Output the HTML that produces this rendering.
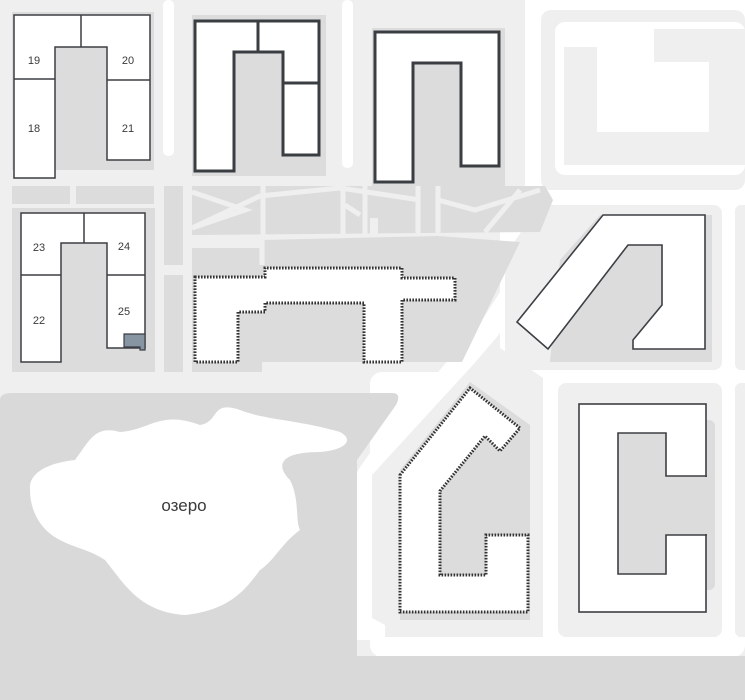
<!DOCTYPE html>
<html><head><meta charset="utf-8"><style>
html,body{margin:0;padding:0;background:#fff}
svg{display:block}
text{font-family:"Liberation Sans",sans-serif;fill:#3a3a3a}
</style></head><body>
<svg width="745" height="700" viewBox="0 0 745 700" xmlns="http://www.w3.org/2000/svg">
<rect x="0" y="0" width="745" height="700" fill="#efefef"/>
<rect x="163" y="0" width="11" height="156" rx="5" fill="#fff"/>
<rect x="342" y="0" width="11" height="168" rx="5" fill="#fff"/>
<rect x="525" y="0" width="220" height="205" fill="#fff"/>
<rect x="541" y="10" width="204" height="180" rx="10" fill="#efefef"/>
<rect x="555" y="22" width="190" height="153" rx="10" fill="#fff"/>
<polygon points="564,47 597,47 597,132 709,132 709,62 654,62 654,29 745,29 745,165 564,165" fill="#efefef"/>
<rect x="500" y="190" width="245" height="200" fill="#fff"/>
<rect x="370" y="372" width="375" height="285" rx="12" fill="#fff"/>
<polyline points="572,200 490,328 382,455 368,475 368,640" fill="none" stroke="#fff" stroke-width="22" stroke-linejoin="round"/>
<rect x="505" y="205" width="217" height="165" rx="8" fill="#efefef"/>
<polygon points="505,205 540,205 505,255" fill="#fff"/>
<rect x="735" y="205" width="20" height="165" rx="6" fill="#efefef"/>
<polygon points="560,260 600,215 712,215 712,362 550,362" fill="#dcdcdc"/>
<polygon points="517,322 603,215 705,215 705,349 633,349 633,340 662,305 662,245 628,245 548,349" fill="#fff" stroke="#3c3f44" stroke-width="1.6"/>
<polygon points="493,343 543,378 543,637 385,637 385,625 372,618 372,475" fill="#efefef"/>
<polygon points="400,470 470,382 530,425 530,620 400,620" fill="#dcdcdc"/>
<polygon points="400,475 470,388 520,428 500,451 485,436 440,491 440,575 486,575 486,535 528,535 528,612 400,612" fill="#fff" stroke="#333" stroke-width="3" stroke-dasharray="1.6 1.4"/>
<rect x="558" y="383" width="164" height="254" rx="8" fill="#efefef"/>
<rect x="735" y="383" width="20" height="254" rx="6" fill="#efefef"/>
<rect x="600" y="420" width="115" height="170" rx="6" fill="#dcdcdc"/>
<rect x="579" y="404" width="127" height="208" fill="#fff" stroke="#3c3f44" stroke-width="1.6"/>
<polygon points="618,433 666,433 666,476 706,476 706,535 666,535 666,574 618,574" fill="#dcdcdc" stroke="#3c3f44" stroke-width="1.6"/>
<rect x="705" y="477" width="8" height="57" fill="#dcdcdc"/>
<path d="M0,700 L0,400 Q0,393 12,393 L392,393 Q402,393 396,405 L357,460 L357,656 L745,656 L745,700 Z" fill="#d9d9d9"/>
<path d="M30,490 C28,470 55,462 75,460 C90,440 95,425 120,432 C150,430 160,410 200,425 C220,422 210,400 240,410 C265,420 300,420 340,432 C355,440 345,450 320,452 C280,452 275,465 290,480 C300,500 295,520 300,530 C280,545 275,560 260,570 C245,590 230,610 185,615 C140,612 125,585 105,560 C90,550 75,548 60,540 C40,530 30,510 30,490 Z" fill="#fff"/>
<text x="184" y="511" font-size="17" text-anchor="middle">озеро</text>
<rect x="12" y="12" width="142" height="158" fill="#dcdcdc"/>
<polygon points="14,15 150,15 150,160 107,160 107,47 55,47 55,178 14,178" fill="#fff" stroke="#3c3f44" stroke-width="1.5"/>
<path d="M81,15V47M14,79H55M107,80H150" stroke="#3c3f44" stroke-width="1.5" fill="none"/>
<g font-size="11" text-anchor="middle"><text x="34" y="64">19</text><text x="128" y="64">20</text><text x="34" y="132">18</text><text x="128" y="132">21</text></g>
<rect x="192" y="15" width="134" height="161" fill="#dcdcdc"/>
<polygon points="195,21 319,21 319,155 283,155 283,52 234,52 234,171 195,171" fill="#fff" stroke="#3a3d42" stroke-width="3"/>
<path d="M258,21V52M283,83H319" stroke="#3a3d42" stroke-width="3" fill="none"/>
<rect x="372" y="28" width="133" height="160" fill="#dcdcdc"/>
<polygon points="375,32 499,32 499,166 461,166 461,63 413,63 413,182 375,182" fill="#fff" stroke="#3a3d42" stroke-width="3"/>
<rect x="12" y="186" width="58" height="18" fill="#dcdcdc"/>
<rect x="76" y="186" width="78" height="18" fill="#dcdcdc"/>
<rect x="164" y="186" width="19" height="79" fill="#dcdcdc"/>
<rect x="164" y="275" width="19" height="97" fill="#dcdcdc"/>
<polygon points="192,186 545,186 553,200 540,232 192,235" fill="#dcdcdc"/>
<g stroke="#efefef" stroke-width="5" fill="none">
<path d="M192,192 L245,210 L192,228"/><path d="M192,228 L260,196 L340,188 L420,200"/>
<path d="M263,186V235M343,186V235M365,186V235M418,186V235M438,186V235"/>
<path d="M438,200 L475,210 L540,190M485,232L520,190"/>
<path d="M345,205 L360,215"/>
</g>
<rect x="370" y="218" width="8" height="17" fill="#efefef"/>
<polygon points="192,248 262,248 262,240 438,236 520,242 462,362 262,362 262,372 192,372" fill="#dcdcdc"/>
<path d="M262,240 L262,265" stroke="#efefef" stroke-width="5"/>
<polygon points="195,277 265,277 265,268 402,268 402,278 455,278 455,300 402,300 402,362 364,362 364,303 265,303 265,312 238,312 238,362 195,362" fill="#fff" stroke="#333" stroke-width="3" stroke-dasharray="1.6 1.4"/>
<rect x="12" y="208" width="143" height="164" fill="#dcdcdc"/>
<polygon points="21,213 145,213 145,348 107,348 107,243 61,243 61,362 21,362" fill="#fff" stroke="#3c3f44" stroke-width="1.5"/>
<path d="M84,213V243M21,275H61M107,275H145" stroke="#3c3f44" stroke-width="1.5" fill="none"/>
<polygon points="124,334 145,334 145,350 140,350 140,347 124,347" fill="#8795a3" stroke="#3c3f44" stroke-width="1.2"/>
<g font-size="11" text-anchor="middle"><text x="39" y="251">23</text><text x="124" y="250">24</text><text x="39" y="324">22</text><text x="124" y="315">25</text></g>
</svg>
</body></html>
